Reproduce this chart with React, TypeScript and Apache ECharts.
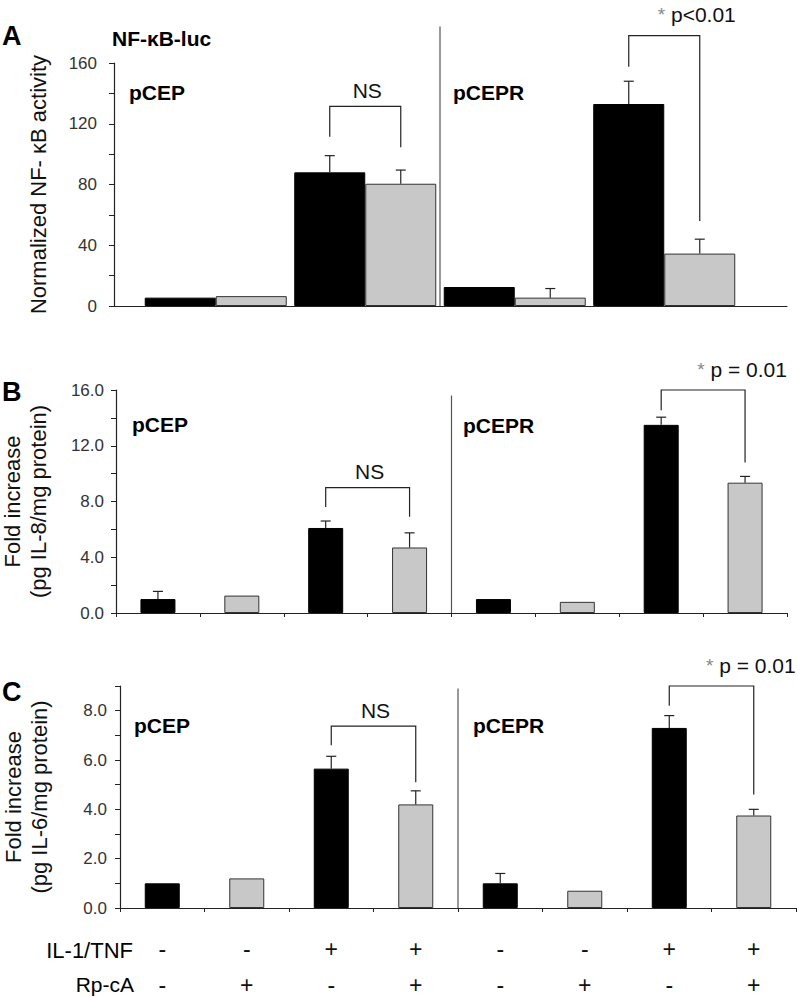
import React, { useEffect, useRef } from "react";
import * as echarts from "echarts";

// ---- data ----
const vectors = ["pCEP", "pCEP", "pCEP", "pCEP", "pCEPR", "pCEPR", "pCEPR", "pCEPR"];
const il1Tnf = ["-", "-", "+", "+", "-", "-", "+", "+"];
const rpCA = ["-", "+", "-", "+", "-", "+", "-", "+"];

const nfkbValues = [5.5, 6.5, 88, 80.5, 12.5, 5.5, 133, 34.5];
const nfkbErrors = [0, 0, 11, 9, 0, 6, 15, 9.5];
const il8Values = [1.0, 1.25, 6.1, 4.7, 1.0, 0.8, 13.5, 9.35];
const il8Errors = [0.55, 0, 0.5, 1.05, 0, 0, 0.55, 0.45];
const il6Values = [1.0, 1.2, 5.65, 4.2, 1.0, 0.7, 7.3, 3.75];
const il6Errors = [0, 0, 0.5, 0.55, 0.4, 0, 0.5, 0.25];

const nfkbTickLabels = ["0", "40", "80", "120", "160"];
const il8TickLabels = ["0.0", "4.0", "8.0", "12.0", "16.0"];
const il6TickLabels = ["0.0", "2.0", "4.0", "6.0", "8.0"];

const comparisonsA = [
  { left: 2, right: 3, top: 131.5, leftEnd: 111.5, rightEnd: 104.5, label: "NS" },
  { left: 6, right: 7, top: 178, leftEnd: 157.5, rightEnd: 56, label: "* p<0.01" },
];
const comparisonsB = [
  { left: 2, right: 3, top: 9.0, leftEnd: 7.6, rightEnd: 6.9, label: "NS" },
  { left: 6, right: 7, top: 16.0, leftEnd: 14.55, rightEnd: 10.8, label: "* p = 0.01" },
];
const comparisonsC = [
  { left: 2, right: 3, top: 7.37, leftEnd: 6.6, rightEnd: 5.1, label: "NS" },
  { left: 6, right: 7, top: 9.0, leftEnd: 8.2, rightEnd: 4.6, label: "* p = 0.01" },
];

// ---- styles ----
const F = "'Liberation Sans', Arial, Helvetica, sans-serif";
const BLACK = "#000000";
const GRAY = "#c8c8c8";
const INK = "#222222";
const GAP_A = 0.05;

const tickFormatter = (labels: string[]) => (v: number) => {
  const l = labels.find((s) => Math.abs(Number(s) - v) < 1e-9);
  return l === undefined ? "" : l;
};

const barCenter = (api: any, barIdx: number, clustered: boolean) => {
  if (clustered) {
    const cat = Math.floor(barIdx / 2);
    const side = barIdx % 2 === 0 ? -1 : 1;
    const cw = api.size([1, 0])[0];
    return api.coord([cat, 0])[0] + (side * cw * (1 - GAP_A)) / 4;
  }
  return api.coord([barIdx, 0])[0];
};

const lineStyle = { stroke: INK, lineWidth: 1.2 };

function errorSeries(values: number[], errors: number[], axis: number, clustered: boolean) {
  return {
    type: "custom",
    xAxisIndex: axis,
    yAxisIndex: axis,
    silent: true,
    clip: false,
    z: 5,
    data: values.map((v, i) => [clustered ? Math.floor(i / 2) : i, v, errors[i], i]),
    renderItem: (params: any, api: any) => {
      const v = api.value(1);
      const e = api.value(2);
      const b = api.value(3);
      if (!e) return { type: "group", children: [] };
      const x = barCenter(api, b, clustered);
      const y0 = api.coord([0, v])[1];
      const y1 = api.coord([0, v + e])[1];
      return {
        type: "group",
        children: [
          { type: "line", shape: { x1: x, y1: y0, x2: x, y2: y1 }, style: lineStyle },
          { type: "line", shape: { x1: x - 5, y1: y1, x2: x + 5, y2: y1 }, style: lineStyle },
        ],
      };
    },
  };
}

function bracketSeries(comps: any[], axis: number, clustered: boolean) {
  return {
    type: "custom",
    xAxisIndex: axis,
    yAxisIndex: axis,
    silent: true,
    clip: false,
    z: 6,
    data: comps.map((c) => [clustered ? Math.floor(c.left / 2) : c.left, c.top, c.leftEnd, c.rightEnd, c.left, c.right]),
    renderItem: (params: any, api: any) => {
      const c = comps[params.dataIndex];
      const xl = barCenter(api, api.value(4), clustered);
      const xr = barCenter(api, api.value(5), clustered);
      const yt = api.coord([0, api.value(1)])[1];
      const yl = api.coord([0, api.value(2)])[1];
      const yr = api.coord([0, api.value(3)])[1];
      const isNS = c.label === "NS";
      const txt = isNS ? `{t|${c.label}}` : `{s|*}{t|${c.label.slice(1)}}`;
      return {
        type: "group",
        children: [
          {
            type: "polyline",
            shape: { points: [[xl, yl], [xl, yt], [xr, yt], [xr, yr]] },
            style: { ...lineStyle, fill: "none" },
          },
          {
            type: "text",
            x: isNS ? (xl + xr) / 2 + 2 : xr - 3,
            y: isNS ? yt - 16 : yt - 21,
            style: {
              text: txt,
              textAlign: "center",
              textVerticalAlign: "middle",
              fontSize: 21,
              fontFamily: F,
              fill: "#111",
              rich: {
                s: { fill: "#888", fontSize: 19, fontFamily: F },
                t: { fill: "#111", fontSize: 21, fontFamily: F },
              },
            },
          },
        ],
      };
    },
  };
}

function dividerSeries(axis: number, leftCat: number, top: number) {
  return {
    type: "custom",
    xAxisIndex: axis,
    yAxisIndex: axis,
    silent: true,
    clip: false,
    z: 4,
    data: [[leftCat, top]],
    renderItem: (params: any, api: any) => {
      const cw = api.size([1, 0])[0];
      const x = api.coord([api.value(0), 0])[0] + cw / 2;
      const y0 = api.coord([0, 0])[1];
      const y1 = api.coord([0, api.value(1)])[1];
      return { type: "line", shape: { x1: x, y1: y0, x2: x, y2: y1 }, style: { stroke: "#555", lineWidth: 1.2 } };
    },
  };
}

const axisLineStyle = { show: true, lineStyle: { color: INK, width: 1.2 } };
const yLabelStyle = (labels: string[], margin: number) => ({
  formatter: tickFormatter(labels),
  fontSize: 17,
  fontFamily: F,
  color: "#333",
  margin,
});
const nameStyle = { fontSize: 22, fontFamily: F, color: "#111", lineHeight: 26 };

function txt(text: string, x: number, y: number, size: number, bold: boolean, align = "left") {
  return {
    type: "text",
    x,
    y,
    style: {
      text,
      fontSize: size,
      fontWeight: bold ? "bold" : "normal",
      fontFamily: F,
      fill: "#000",
      textAlign: align,
      textVerticalAlign: "middle",
    },
  };
}

export default function App() {
  const ref = useRef<HTMLDivElement>(null);
  useEffect(() => {
    if (!ref.current) return;
    const chart = echarts.init(ref.current, undefined, { renderer: "svg" });
    const groups = Array.from(new Set(vectors));
    const catsA = [0, 2, 4, 6].map((i) => `${vectors[i]} IL-1/TNF ${il1Tnf[i]}`);
    const catsIl = vectors.map((_, i) => il1Tnf[i]);
    const catsRp = vectors.map((_, i) => rpCA[i]);
    const blackStyle = { color: BLACK, borderColor: "#000", borderWidth: 1 };
    const grayStyle = { color: GRAY, borderColor: "#333", borderWidth: 1 };
    const colored = (vals: number[]) =>
      vals.map((v, i) => ({ value: v, itemStyle: rpCA[i] === "+" ? grayStyle : blackStyle }));
    const signLabel = (margin: number) => ({
      interval: 0, fontSize: 23, fontFamily: F, color: "#111", margin,
    });
    const g = (left: number, top: number, width: number, height: number) => ({
      left, top, width, height, containLabel: false, outerBoundsMode: "none",
    });

    chart.setOption({
      animation: false,
      backgroundColor: "#ffffff",
      grid: [
        g(114, 63, 673, 243),
        g(141, 63, 598, 243),
        g(116, 390, 671, 223),
        g(120, 686, 676, 222),
      ],
      xAxis: [
        {
          gridIndex: 0, type: "value", min: 0, max: 1,
          axisLine: axisLineStyle, axisTick: { show: false }, axisLabel: { show: false }, splitLine: { show: false },
        },
        { gridIndex: 1, type: "category", data: catsA, show: false },
        {
          gridIndex: 2, type: "category", data: catsIl,
          axisLine: axisLineStyle, axisTick: { show: true, length: 4, lineStyle: { color: INK } },
          axisLabel: { show: false },
        },
        {
          gridIndex: 3, type: "category", data: catsIl,
          axisLine: axisLineStyle, axisTick: { show: true, length: 4, lineStyle: { color: INK } },
          axisLabel: signLabel(29),
        },
        {
          gridIndex: 3, type: "category", data: catsRp, position: "bottom",
          axisLine: { show: false }, axisTick: { show: false },
          axisLabel: signLabel(65),
        },
      ],
      yAxis: [
        {
          gridIndex: 0, type: "value", min: 0, max: 160, interval: 20,
          name: "Normalized NF- κB activity", nameLocation: "middle", nameGap: 63, nameTextStyle: nameStyle,
          axisLine: axisLineStyle, axisTick: { show: true, length: 5, lineStyle: { color: INK } },
          axisLabel: yLabelStyle(nfkbTickLabels, 17), splitLine: { show: false },
        },
        { gridIndex: 1, type: "value", min: 0, max: 160, show: false, splitLine: { show: false } },
        {
          gridIndex: 2, type: "value", min: 0, max: 16, interval: 2,
          name: "Fold increase\n(pg IL-8/mg protein)", nameLocation: "middle", nameGap: 65, nameTextStyle: nameStyle,
          axisLine: axisLineStyle, axisTick: { show: true, length: 5, lineStyle: { color: INK } },
          axisLabel: yLabelStyle(il8TickLabels, 12), splitLine: { show: false },
        },
        {
          gridIndex: 3, type: "value", min: 0, max: 9, interval: 1,
          name: "Fold increase\n(pg IL-6/mg protein)", nameLocation: "middle", nameGap: 68, nameTextStyle: nameStyle,
          axisLine: axisLineStyle, axisTick: { show: true, length: 5, lineStyle: { color: INK } },
          axisLabel: yLabelStyle(il6TickLabels, 13), splitLine: { show: false },
        },
      ],
      series: [
        {
          type: "bar", name: "Rp-cA -", xAxisIndex: 1, yAxisIndex: 1,
          data: nfkbValues.filter((_, i) => rpCA[i] === "-"),
          barGap: "0%", barCategoryGap: `${GAP_A * 100}%`, itemStyle: blackStyle,
        },
        {
          type: "bar", name: "Rp-cA +", xAxisIndex: 1, yAxisIndex: 1,
          data: nfkbValues.filter((_, i) => rpCA[i] === "+"),
          barGap: "0%", barCategoryGap: `${GAP_A * 100}%`, itemStyle: grayStyle,
        },
        errorSeries(nfkbValues, nfkbErrors, 1, true),
        bracketSeries(comparisonsA, 1, true),
        dividerSeries(1, 1, 184),
        { type: "bar", name: "IL-8", xAxisIndex: 2, yAxisIndex: 2, barWidth: 35, data: colored(il8Values) },
        errorSeries(il8Values, il8Errors, 2, false),
        bracketSeries(comparisonsB, 2, false),
        dividerSeries(2, 3, 15.6),
        { type: "bar", name: "IL-6", xAxisIndex: 3, yAxisIndex: 3, barWidth: 35, data: colored(il6Values) },
        errorSeries(il6Values, il6Errors, 3, false),
        bracketSeries(comparisonsC, 3, false),
        dividerSeries(3, 3, 8.9),
      ],
      graphic: [
        txt("A", 2, 36, 27, true),
        txt("B", 2, 392, 27, true),
        txt("C", 2, 692, 27, true),
        txt("NF-κB-luc", 112, 38, 21, true),
        txt(groups[0], 129, 92, 21, true),
        txt(groups[1], 453, 92, 21, true),
        txt(groups[0], 132, 424, 21, true),
        txt(groups[1], 463, 425, 21, true),
        txt(groups[0], 134, 725, 21, true),
        txt(groups[1], 473, 725, 21, true),
        txt("IL-1/TNF", 133, 950, 22, false, "right"),
        txt("Rp-cA", 134, 984, 21, false, "right"),
      ],
    });
    return () => chart.dispose();
  }, []);
  return (
    <div
      ref={ref}
      style={{ position: "fixed", left: 0, top: 0, width: 797, height: 997, background: "#fff" }}
    />
  );
}
